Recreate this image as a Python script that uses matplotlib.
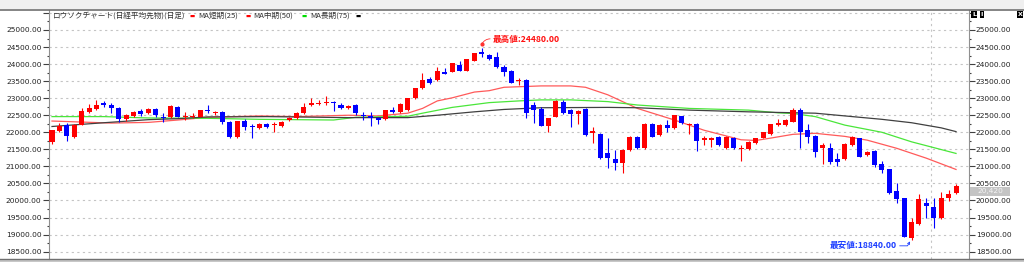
import numpy as np
import matplotlib
matplotlib.use('Agg')
import matplotlib.pyplot as plt
from matplotlib.patches import Rectangle
from matplotlib.lines import Line2D

# daily candles (日経平均先物)
opens = [21720, 22050, 22210, 21850, 22220, 22590, 22680, 22850, 22790, 22720,
         22380, 22480, 22630, 22560, 22680, 22460, 22440, 22750, 22440, 22440,
         22460, 22660, 22570, 22590, 22310, 21850, 22340, 22190, 22120, 22240,
         22220, 22170, 22360, 22410, 22560, 22800, 22820, 22850, 22870, 22800,
         22700, 22800, 22500, 22480, 22410, 22380, 22650, 22600, 22650, 23000,
         23290, 23550, 23530, 23780, 23780, 23970, 23810, 24100, 24360, 24270,
         24200, 23910, 23810, 23500, 23530, 22800, 22680, 22180, 22460, 22900,
         22650, 22530, 22680, 21980, 21950, 21380, 21210, 21090, 21480, 21870,
         21530, 22240, 21920, 22210, 22120, 22470, 22210, 22240, 21770, 21780,
         21870, 21530, 21840, 21510, 21510, 21680, 21840, 21940, 22210, 22210,
         22310, 22650, 22070, 21900, 21530, 21530, 21210, 21210, 21630, 21820,
         21330, 21460, 21070, 20910, 20280, 20060, 18900, 19310, 19940, 19800,
         19480, 20060, 20230]
highs = [22080, 22260, 22260, 22230, 22700, 22820, 22950, 22920, 22850, 22740,
         22530, 22620, 22680, 22700, 22720, 22560, 22790, 22770, 22600, 22560,
         22650, 22800, 22620, 22620, 22330, 22340, 22390, 22240, 22280, 22270,
         22310, 22340, 22440, 22590, 22850, 23000, 22960, 23070, 22920, 22860,
         22800, 22820, 22600, 22600, 22450, 22660, 22750, 22850, 23020, 23300,
         23750, 23620, 23920, 23900, 24030, 24100, 24150, 24330, 24480, 24300,
         24360, 23960, 23830, 23590, 23560, 22900, 22740, 22420, 22950, 22960,
         22680, 22650, 22700, 22160, 21970, 21820, 21480, 21500, 21890, 21900,
         22260, 22260, 22230, 22350, 22520, 22490, 22280, 22260, 21880, 21850,
         21890, 21890, 21870, 21630, 21730, 21840, 22020, 22250, 22380, 22380,
         22700, 22700, 22230, 21920, 21690, 21700, 21400, 21680, 21900, 21840,
         21460, 21480, 21150, 20930, 20500, 20080, 19480, 20190, 20060, 20070,
         20260, 20300, 20480]
lows = [21660, 22020, 21730, 21840, 22200, 22560, 22660, 22750, 22560, 22310,
        22320, 22460, 22480, 22540, 22460, 22290, 22430, 22440, 22360, 22420,
        22450, 22560, 22520, 22240, 21820, 21840, 22070, 21820, 22100, 22120,
        22020, 22150, 22340, 22400, 22550, 22770, 22800, 22800, 22620, 22680,
        22680, 22500, 22360, 22170, 22230, 22360, 22560, 22580, 22630, 22980,
        23280, 23420, 23510, 23700, 23760, 23800, 23800, 24090, 24220, 24120,
        23900, 23650, 23440, 23380, 22410, 22260, 22180, 22020, 22440, 22540,
        22160, 22230, 21900, 21680, 21220, 20940, 20890, 20810, 21460, 21500,
        21520, 21850, 21900, 22010, 22100, 22240, 21950, 21450, 21630, 21560,
        21600, 21510, 21500, 21160, 21490, 21660, 21820, 21920, 22180, 22190,
        22290, 21530, 21700, 21280, 21070, 21080, 21000, 21190, 21610, 21270,
        21300, 20980, 20820, 20180, 19920, 18920, 18840, 19280, 19480, 19190,
        19460, 19980, 20200]
closes = [22070, 22190, 21900, 22210, 22610, 22720, 22800, 22800, 22720, 22380,
          22510, 22600, 22530, 22680, 22510, 22420, 22780, 22460, 22480, 22470,
          22640, 22620, 22600, 22290, 21850, 22330, 22150, 22160, 22240, 22160,
          22230, 22310, 22420, 22570, 22750, 22850, 22870, 22880, 22850, 22710,
          22770, 22560, 22470, 22410, 22360, 22650, 22600, 22830, 23000, 23290,
          23530, 23450, 23810, 23710, 24020, 23810, 24140, 24320, 24300, 24140,
          23910, 23780, 23450, 23530, 22580, 22650, 22180, 22410, 22930, 22560,
          22530, 22630, 21920, 22040, 21240, 21240, 21090, 21480, 21870, 21530,
          22240, 21870, 22210, 22120, 22500, 22260, 22240, 21730, 21840, 21830,
          21630, 21870, 21530, 21550, 21710, 21820, 22000, 22230, 22260, 22360,
          22650, 22020, 21870, 21430, 21630, 21120, 21140, 21660, 21870, 21280,
          21430, 21040, 20890, 20210, 20040, 18940, 19380, 20030, 19840, 19480,
          20060, 20190, 20420]

# moving averages, read at a few candle positions
ma25_idx = [0, 8, 13, 17, 21, 28, 33, 40, 44, 48, 50, 52, 54, 57, 59, 61, 66, 70, 72,
            75, 79, 84, 88, 93, 95, 97, 100, 103, 107, 110, 114, 118, 122]
ma25_val = [22330, 22270, 22290, 22360, 22440, 22480, 22460, 22500, 22480, 22560,
            22700, 22920, 23010, 23180, 23220, 23320, 23360, 23360, 23320, 23100,
            22700, 22360, 22060, 21780, 21760, 21830, 21940, 21970, 21880, 21770,
            21530, 21240, 20910]
ma50_idx = [0, 7, 13, 21, 28, 38, 41, 48, 50, 54, 59, 63, 66, 70, 75, 79, 86, 94,
            98, 100, 103, 107, 112, 116, 122]
ma50_val = [22460, 22460, 22420, 22410, 22380, 22360, 22440, 22470, 22560, 22730,
            22870, 22920, 22950, 22950, 22900, 22800, 22700, 22650, 22570, 22550,
            22460, 22210, 22000, 21720, 21380]
ma75_idx = [0, 7, 13, 17, 21, 29, 40, 48, 52, 57, 61, 66, 75, 79, 86, 94, 103, 107,
            112, 116, 120, 122]
ma75_val = [22170, 22280, 22370, 22400, 22450, 22460, 22430, 22430, 22500, 22600,
            22670, 22720, 22730, 22720, 22650, 22600, 22560, 22480, 22380, 22280,
            22130, 22020]

W, H = 1024, 262
fig = plt.figure(figsize=(W / 100, H / 100), dpi=100)
fig.patch.set_facecolor('white')

# window chrome
fig.add_artist(Rectangle((0, 1 - 9 / H), 1, 9 / H, transform=fig.transFigure,
                         facecolor='#efefef', edgecolor='none', zorder=0))
fig.add_artist(Line2D([0, 1], [1 - 9.5 / H, 1 - 9.5 / H], transform=fig.transFigure,
                      color='#707070', lw=1.2))
fig.add_artist(Rectangle((0, 0), 1, 3 / H, transform=fig.transFigure,
                         facecolor='#c8c8c8', edgecolor='none', zorder=0))
fig.add_artist(Line2D([0, 1], [3 / H, 3 / H], transform=fig.transFigure,
                      color='#707070', lw=1.0))

ax = fig.add_axes([48.5 / W, 3 / H, (969 - 48.5) / W, (259 - 10) / H])
ax.set_facecolor('white')

n = len(opens)
idx = np.arange(n)
o = np.array(opens); c = np.array(closes)
up = c >= o
cols = np.where(up, '#ff0000', '#0000ff')
body_lo = np.minimum(o, c)
body_h = np.maximum(np.abs(c - o), 30)

ax.vlines(idx, lows, highs, colors=cols, lw=0.8, zorder=3)
ax.bar(idx, body_h, bottom=body_lo, width=0.68, color=cols, linewidth=0, zorder=4)

ax.plot(ma25_idx, ma25_val, color='#ff5a5a', lw=0.9, zorder=2)
ax.plot(ma50_idx, ma50_val, color='#4ae63a', lw=0.9, zorder=2)
ax.plot(ma75_idx, ma75_val, color='#404040', lw=0.9, zorder=2)

ax.set_xlim((48.5 - 52) / 7.41, (969 - 52) / 7.41)
ax.set_ylim(25000 - 229 * 29.33, 25000 + 20 * 29.33)

yt = np.arange(18500, 25501, 500)
ax.set_yticks(yt)
ax.set_yticklabels(['' if v > 25000 else f'{v:.2f}' for v in yt])
ax.set_yticks(np.arange(18750, 25501, 500), minor=True)
ax.set_xticks([])
ax.tick_params(axis='y', which='major', left=True, right=True, labelleft=True,
               labelright=True, length=4, width=0.8, pad=1, color='#404040',
               labelsize=5.4, labelcolor='#222222', direction='out')
ax.tick_params(axis='y', which='minor', left=True, right=True, length=1.2,
               width=0.8, color='#404040', direction='out')
for v in yt:
    ax.axhline(v, color='#c4c4c4', lw=0.8, ls=(0, (2, 3)), zorder=1)
ax.axvline(118.6, color='#c4c4c4', lw=0.8, ls=(0, (2, 3)), zorder=1)

for s in ['top', 'bottom']:
    ax.spines[s].set_visible(False)
for s in ['left', 'right']:
    ax.spines[s].set_color('#909090')
    ax.spines[s].set_linewidth(0.8)

cjk = ['Noto Sans CJK JP', 'DejaVu Sans']

# legend line at top-left
def ftext(x, y, s, **kw):
    fig.text(x / W, 1 - y / H, s, va='center', family=cjk, **kw)

ftext(53, 16, 'ロウソクチャート(日経平均先物)(日足)', fontsize=5.5, color='#333333')
ftext(189, 16.5, '▬', fontsize=4, color='#ff0000')
ftext(198, 16, 'MA短期(25)', fontsize=5.5, color='#333333')
ftext(245, 16.5, '▬', fontsize=4, color='#ff0000')
ftext(253, 16, 'MA中期(50)', fontsize=5.5, color='#333333')
ftext(301, 16.5, '▬', fontsize=4, color='#00dd00')
ftext(310, 16, 'MA長期(75)', fontsize=5.5, color='#333333')
ftext(356, 16.5, '▬', fontsize=4, color='#000000')

# high / low annotations
hi = int(np.argmax(highs))
lo = int(np.argmin(lows))
ax.plot([hi], [highs[hi] + 110], 'o', ms=2, color='#ff3030', zorder=5)
ax.annotate(f'最高値:{highs[hi]:.2f}', xy=(hi, highs[hi] + 110),
            xytext=(8, 3.5), textcoords='offset points', ha='left', va='center',
            fontsize=6.2, fontweight='bold', color='#ff1010', family=cjk,
            arrowprops=dict(arrowstyle='-', color='#ff3030', lw=0.6, shrinkA=0,
                            shrinkB=0, relpos=(0, 0.5),
                            connectionstyle='arc3,rad=0.35'))
ax.annotate(f'最安値:{lows[lo]:.2f}', xy=(lo - 0.2, lows[lo] - 40),
            xytext=(-9.5, -3.2), textcoords='offset points', ha='right', va='center',
            fontsize=6.2, fontweight='bold', color='#1a3cff', family=cjk,
            arrowprops=dict(arrowstyle='->', color='#1a3cff', lw=0.6, shrinkA=0,
                            shrinkB=0, mutation_scale=4, relpos=(1, 0.5),
                            connectionstyle='angle,angleA=0,angleB=60,rad=0'))

# last price tag on right axis
fig.add_artist(Rectangle((970 / W, 1 - 196 / H), 40 / W, 9 / H,
                         transform=fig.transFigure, facecolor='#c4c4c4',
                         edgecolor='none', zorder=5))
fig.text(990 / W, 1 - 191.5 / H, f'{closes[-1]:,}', ha='center', va='center',
         fontsize=5.3, color='#f4f4f4', zorder=6)

# small window buttons
for x, s in [(974, 'L'), (982, 'I'), (1020, 'X')]:
    fig.text(x / W, 1 - 14.5 / H, s, ha='center', va='center', fontsize=4.5,
             color='white', fontweight='bold',
             bbox=dict(boxstyle='square,pad=0.15', facecolor='black', edgecolor='none'))

fig.savefig('out.png', dpi=100, facecolor='white')
